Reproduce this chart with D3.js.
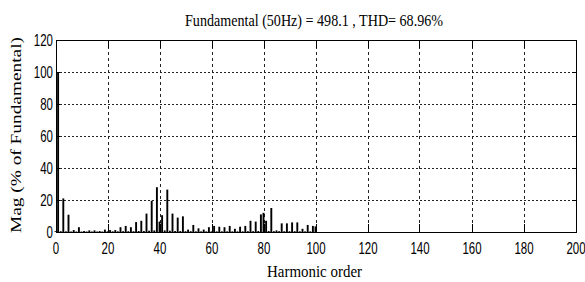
<!DOCTYPE html>
<html><head><meta charset="utf-8">
<script src="https://cdn.jsdelivr.net/npm/d3@7"></script>
<style>html,body{margin:0;padding:0;background:#fff;}svg{display:block;}</style>
</head><body>
<script>
// Harmonic orders 0..100 and magnitudes (% of fundamental)
const harmonicOrders = [0,1,2,3,4,5,6,7,8,9,10,11,12,13,14,15,16,17,18,19,20,21,22,23,24,25,26,27,28,29,30,31,32,33,34,35,36,37,38,39,40,41,42,43,44,45,46,47,48,49,50,51,52,53,54,55,56,57,58,59,60,61,62,63,64,65,66,67,68,69,70,71,72,73,74,75,76,77,78,79,80,81,82,83,84,85,86,87,88,89,90,91,92,93,94,95,96,97,98,99,100];
const magnitudes = [0.5,100,0.5,21,0.4,10.8,0.3,1.2,0.3,3,0.3,0.6,0.3,1,0.3,1,0.3,0.6,0.3,1.5,0.4,1.2,0.4,1.2,0.4,3,0.5,3.8,0.5,3,0.5,6.2,0.6,7,0.6,11.5,0.8,19.5,1,28,6.5,10.5,1,26.5,0.8,11.5,0.6,9,0.6,9.8,0.5,1.5,0.5,4.4,0.4,2.3,0.4,1.5,0.4,3,0.4,3.8,0.4,3.3,0.4,3,0.4,3.8,0.4,2,0.4,3.3,0.4,3.8,0.5,7,0.5,6.5,0.6,11,12,7,0.6,15,0.5,1,0.5,5.4,0.5,5.4,0.5,6,0.5,6,0.4,2,0.4,4.4,0.4,3.8,3.5];
const xTickLabels = [0,20,40,60,80,100,120,140,160,180,200];
const yTickLabels = [0,20,40,60,80,100,120];
const titleText = "Fundamental (50Hz) = 498.1 , THD= 68.96%";
const xLabel = "Harmonic order";
const yLabel = "Mag (% of Fundamental)";

const W = 585, H = 282;
const L = 55.5, R = 575.5, T = 40, B = 232;
const svg = d3.select("body").append("svg").attr("width", W).attr("height", H);

const x = d3.scaleLinear().domain([0, 200]).range([L, R]);
const y = d3.scaleLinear().domain([0, 120]).range([B, T]);

// grid
const grid = svg.append("g").attr("stroke", "#000").attr("stroke-width", 1).attr("fill", "none").attr("shape-rendering", "crispEdges");
grid.selectAll("line.gx").data(xTickLabels.slice(1, -1)).join("line")
  .attr("x1", d => Math.round(x(d)) + 0.5).attr("x2", d => Math.round(x(d)) + 0.5)
  .attr("y1", T).attr("y2", B).attr("stroke-dasharray", "3,3").attr("stroke", "#222");
grid.selectAll("line.gy").data(yTickLabels.slice(1, -1)).join("line")
  .attr("y1", d => Math.round(y(d)) + 0.5).attr("y2", d => Math.round(y(d)) + 0.5)
  .attr("x1", L).attr("x2", R).attr("stroke-dasharray", "2,2").attr("stroke", "#222");

// bars
const bw = 1.9;
svg.append("g").selectAll("rect").data(harmonicOrders).join("rect")
  .attr("x", (d) => x(d) - bw / 2)
  .attr("width", bw)
  .attr("y", (d, i) => y(magnitudes[i]))
  .attr("height", (d, i) => B - y(magnitudes[i]))
  .attr("fill", "#000");

// inside ticks (MATLAB style)
const tk = svg.append("g").attr("stroke", "#000").attr("stroke-width", 1).attr("shape-rendering", "crispEdges");
tk.selectAll("line.tb").data(xTickLabels).join("line")
  .attr("x1", d => Math.round(x(d)) + 0.5).attr("x2", d => Math.round(x(d)) + 0.5)
  .attr("y1", B).attr("y2", B - 8);
tk.selectAll("line.tt").data(xTickLabels).join("line")
  .attr("x1", d => Math.round(x(d)) + 0.5).attr("x2", d => Math.round(x(d)) + 0.5)
  .attr("y1", T).attr("y2", T + 8);
tk.selectAll("line.tl").data(yTickLabels).join("line")
  .attr("y1", d => Math.round(y(d)) + 0.5).attr("y2", d => Math.round(y(d)) + 0.5)
  .attr("x1", L).attr("x2", L + 4);
tk.selectAll("line.tr").data(yTickLabels).join("line")
  .attr("y1", d => Math.round(y(d)) + 0.5).attr("y2", d => Math.round(y(d)) + 0.5)
  .attr("x1", R - 4).attr("x2", R);

// frame
svg.append("rect").attr("x", Math.round(L) + 0.5).attr("y", T + 0.5)
  .attr("width", Math.round(R) - Math.round(L)).attr("height", B - T)
  .attr("fill", "none").attr("stroke", "#000").attr("stroke-width", 1).attr("shape-rendering", "crispEdges");

// axis labels via d3 axes (labels only)
const sy = 1.45;
const xAxis = svg.append("g").attr("transform", `translate(0,${B})`)
  .call(d3.axisBottom(x).tickValues(xTickLabels).tickSize(0).tickPadding(0).tickFormat(d3.format("d")));
xAxis.select(".domain").remove();
xAxis.selectAll("text").attr("font-family", "'Liberation Sans', Arial, sans-serif").attr("font-size", 11.5)
  .attr("fill", "#000").attr("dy", null).attr("y", 0)
  .attr("transform", `translate(0,${254 - B}) scale(1,${sy})`)
  .attr("dominant-baseline", "auto");

const yAxis = svg.append("g").attr("transform", `translate(${L},0)`)
  .call(d3.axisLeft(y).tickValues(yTickLabels).tickSize(0).tickPadding(0).tickFormat(d3.format("d")));
yAxis.select(".domain").remove();
yAxis.selectAll(".tick").each(function (d) {
  d3.select(this).select("text").attr("font-family", "'Liberation Sans', Arial, sans-serif").attr("font-size", 11.5)
    .attr("fill", "#000").attr("dy", null).attr("x", 0).attr("y", 0)
    .attr("text-anchor", "end")
    .attr("transform", `translate(-2.5,5.8) scale(1,${sy})`);
});

// title
svg.append("text").attr("font-family", "'Liberation Serif', 'Times New Roman', serif").attr("font-size", 14)
  .attr("text-anchor", "start").attr("textLength", 258).attr("lengthAdjust", "spacingAndGlyphs")
  .attr("transform", `translate(185,25.5) scale(1,1.2)`).text(titleText);

// x label
svg.append("text").attr("font-family", "'Liberation Serif', 'Times New Roman', serif").attr("font-size", 14)
  .attr("text-anchor", "start").attr("textLength", 95).attr("lengthAdjust", "spacingAndGlyphs")
  .attr("transform", `translate(267,277) scale(1,1.2)`).text(xLabel);

// y label
svg.append("text").attr("font-family", "'Liberation Serif', 'Times New Roman', serif").attr("font-size", 14)
  .attr("text-anchor", "start").attr("textLength", 196).attr("lengthAdjust", "spacingAndGlyphs")
  .attr("transform", `translate(20.5,233) rotate(-90)`).text(yLabel);
</script>
</body></html>
